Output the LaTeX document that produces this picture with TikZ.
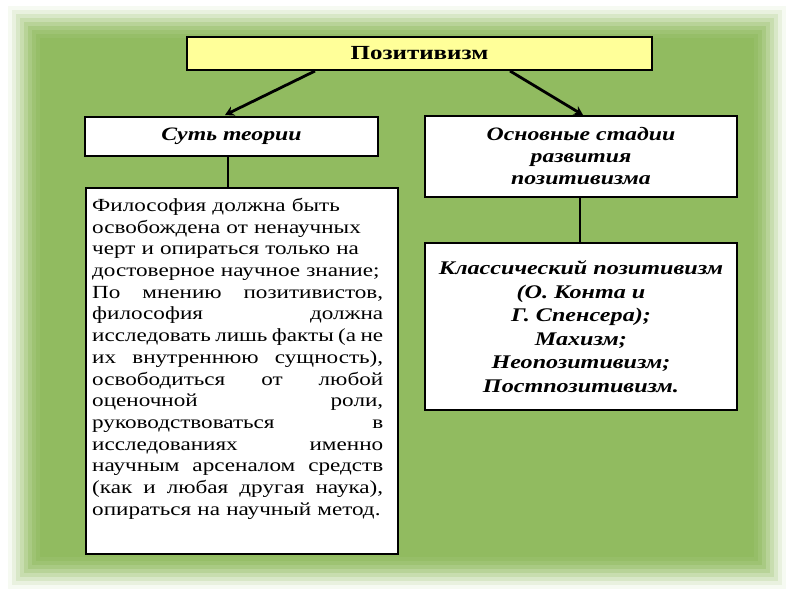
\documentclass[tikz,border=0pt]{standalone}
\usepackage{fontspec}
\setmainfont{Liberation Serif}[FakeStretch=1.25]
\usetikzlibrary{arrows.meta}
\definecolor{bg}{RGB}{145,187,96}
\newcommand{\jl}[1]{\makebox[291pt]{#1}}
\begin{document}
\begin{tikzpicture}[x=1pt,y=-1pt,
  box/.style={draw=black,line width=1.6pt,fill=white,inner sep=0pt},
  conn/.style={line width=2.8pt},
  arr/.style={line width=2.8pt,-{Stealth[length=9pt,width=10pt]}}]
\useasboundingbox (0,0) rectangle (794,595);
\fill[white] (0,0) rectangle (794,595);
\foreach \i/\c in {0/8,4/20,8/35,12/50,16/65,20/78,24/88,28/95,32/100}
  \fill[bg!\c!white] (8+\i,6+\i) rectangle (786-\i,589-\i);
\node[box,fill={rgb,255:red,255;green,255;blue,153},minimum width=465pt,minimum height=33pt,font=\fontsize{20}{22}\selectfont\bfseries] (title) at (419.5,53.5) {Позитивизм};
\node[box,minimum width=293pt,minimum height=39pt,font=\fontsize{19}{22}\selectfont\bfseries\itshape] (essence) at (231.5,136.5) {Суть теории};
\node[box,minimum width=312pt,minimum height=81pt,align=center,font=\fontsize{19}{22}\selectfont\bfseries\itshape] (stages) at (581,156.5) {Основные стадии\\развития\\позитивизма};
\node[box,minimum width=312pt,minimum height=366pt,anchor=north west,inner sep=0pt] (text) at (85,187) {};
\node[anchor=north west,inner sep=0pt,text width=291pt,font=\fontsize{18.5}{21.7}\selectfont] (body) at (92,198) {%
Философия должна быть\\
освобождена от ненаучных\\
черт и опираться только на\\
достоверное научное знание;\\
\jl{По\hfill мнению\hfill позитивистов,}\\
\jl{философия\hfill должна}\\
\jl{исследовать\hfill лишь\hfill факты\hfill (а\hfill не}\\
\jl{их\hfill внутреннюю\hfill сущность),}\\
\jl{освободиться\hfill от\hfill любой}\\
\jl{оценочной\hfill роли,}\\
\jl{руководствоваться\hfill в}\\
\jl{исследованиях\hfill именно}\\
\jl{научным\hfill арсеналом\hfill средств}\\
\jl{(как\hfill и\hfill любая\hfill другая\hfill наука),}\\
опираться на научный метод.};
\node[box,minimum width=312pt,minimum height=167pt,align=center,font=\fontsize{19.3}{23.5}\selectfont\bfseries\itshape] (kinds) at (581,326.5) {Классический позитивизм\\(О. Конта и\\Г. Спенсера);\\Махизм;\\Неопозитивизм;\\Постпозитивизм.};
\coordinate (t1) at (315,71);
\coordinate (t2) at (510,71);
\draw[arr] (t1) -- (225,115);
\draw[arr] (t2) -- (583,115);
\draw[conn] (essence.south -| 228,0) -- (text.north -| 228,0);
\draw[conn] (stages.south -| 580,0) -- (kinds.north -| 580,0);
\end{tikzpicture}
\end{document}
